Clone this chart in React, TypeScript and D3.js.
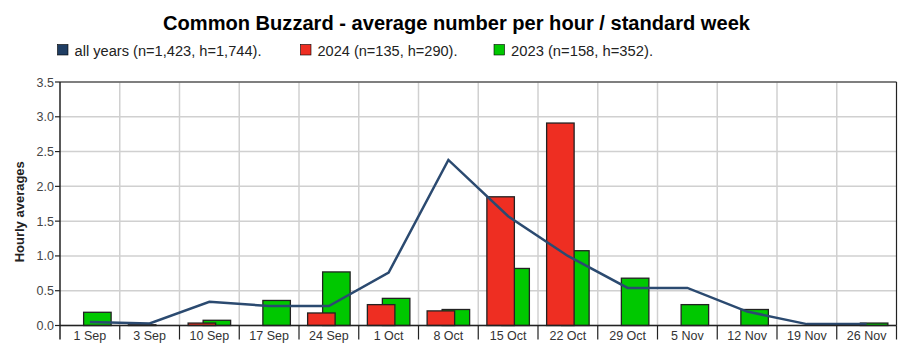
import React from "react";
import * as d3 from "d3";

const weeks = ["1 Sep", "3 Sep", "10 Sep", "17 Sep", "24 Sep", "1 Oct", "8 Oct", "15 Oct", "22 Oct", "29 Oct", "5 Nov", "12 Nov", "19 Nov", "26 Nov"];
const allYears = [0.05, 0.03, 0.34, 0.28, 0.28, 0.76, 2.38, 1.57, 1.0, 0.54, 0.54, 0.2, 0.02, 0.02];
const y2024 = [0, 0.01, 0.035, 0, 0.18, 0.3, 0.21, 1.85, 2.91, 0, 0, 0, 0, 0];
const y2023 = [0.19, 0, 0.075, 0.36, 0.77, 0.39, 0.23, 0.82, 1.075, 0.68, 0.3, 0.23, 0, 0.035];
const yTicks = [0, 0.5, 1.0, 1.5, 2.0, 2.5, 3.0, 3.5];
const legendItems = [
  { label: "all years (n=1,423, h=1,744).", color: "#1f3d63" },
  { label: "2024 (n=135, h=290).", color: "#ee2e22" },
  { label: "2023 (n=158, h=352).", color: "#00c800" },
];
const title = "Common Buzzard - average number per hour / standard week";

export default function App() {
  const W = 905, H = 355;
  const left = 60, right = 896.5, top = 82, bottom = 325.5;
  const x = d3.scaleBand<string>().domain(weeks).range([left, right]).padding(0);
  const y = d3.scaleLinear().domain([0, 3.5]).range([bottom, top]);
  const bw = 27.5;
  const off = 7.5;
  const cx = (w: string) => (x(w) as number) + x.bandwidth() / 2;
  const line = d3.line<number>().x((_, i) => cx(weeks[i])).y((d) => y(d));
  const legendX = [57.5, 300.5, 494];
  const legendLen = [187, 140, 142];

  return (
    <svg width={W} height={H} style={{ position: "absolute", left: 0, top: 0, fontFamily: "'Liberation Sans', Arial, sans-serif" }}>
      <rect width={W} height={H} fill="#fff" />
      <text x={456.5} y={30} textAnchor="middle" fontSize={19.5} fontWeight="bold" fill="#000" textLength={587} lengthAdjust="spacingAndGlyphs">{title}</text>
      {legendItems.map((it, i) => (
        <g key={i}>
          <rect x={legendX[i]} y={44.5} width={10.5} height={10.5} fill={it.color} stroke="#000" strokeWidth={0.6} />
          <text x={legendX[i] + 17} y={55.5} fontSize={15.5} fill="#222" textLength={legendLen[i]} lengthAdjust="spacingAndGlyphs">{it.label}</text>
        </g>
      ))}
      {yTicks.map((t) => (
        <line key={"gy" + t} x1={left} x2={right} y1={y(t)} y2={y(t)} stroke="#d0d0d0" strokeWidth={1.5} />
      ))}
      {weeks.map((w, i) => i > 0 ? (
        <line key={"gx" + w} x1={x(w)} x2={x(w)} y1={top} y2={bottom} stroke="#d0d0d0" strokeWidth={1.5} />
      ) : null)}
      {weeks.map((w, i) => y2023[i] > 0 ? (
        <rect key={"g" + w} x={cx(w) + off - bw / 2} y={y(y2023[i])} width={bw} height={bottom - y(y2023[i])} fill="#00c800" stroke="#222" strokeWidth={1.3} />
      ) : null)}
      {weeks.map((w, i) => y2024[i] > 0 ? (
        <rect key={"r" + w} x={cx(w) - off - bw / 2} y={y(y2024[i])} width={bw} height={bottom - y(y2024[i])} fill="#ee2e22" stroke="#222" strokeWidth={1.3} />
      ) : null)}
      <path d={line(allYears) || ""} fill="none" stroke="#2b4a70" strokeWidth={2.5} />
      <line x1={left} x2={right} y1={top} y2={top} stroke="#222" strokeWidth={1.2} />
      <line x1={right} x2={right} y1={top} y2={bottom} stroke="#222" strokeWidth={1.2} />
      <line x1={left} x2={left} y1={top} y2={bottom + 14} stroke="#222" strokeWidth={1.5} />
      <line x1={left} x2={right} y1={bottom} y2={bottom} stroke="#222" strokeWidth={1.5} />
      {yTicks.map((t) => (
        <g key={"yt" + t}>
          <line x1={left - 5} x2={left} y1={y(t)} y2={y(t)} stroke="#222" strokeWidth={1.2} />
          <text x={left - 6} y={y(t) + 4.5} textAnchor="end" fontSize={12.5} fill="#444">{t.toFixed(1)}</text>
        </g>
      ))}
      {weeks.map((w, i) => (
        <g key={"xt" + w}>
          {i > 0 && <line x1={x(w)} x2={x(w)} y1={bottom} y2={bottom + 14} stroke="#222" strokeWidth={1.2} />}
          <text x={cx(w)} y={bottom + 14} textAnchor="middle" fontSize={12.5} fill="#333">{w}</text>
        </g>
      ))}
      <line x1={right} x2={right} y1={bottom} y2={bottom + 14} stroke="#222" strokeWidth={1.2} />
      <text transform={`translate(24,${(top + bottom) / 2 + 8}) rotate(-90)`} textAnchor="middle" fontSize={13} fontWeight="bold" fill="#222">Hourly averages</text>
    </svg>
  );
}
